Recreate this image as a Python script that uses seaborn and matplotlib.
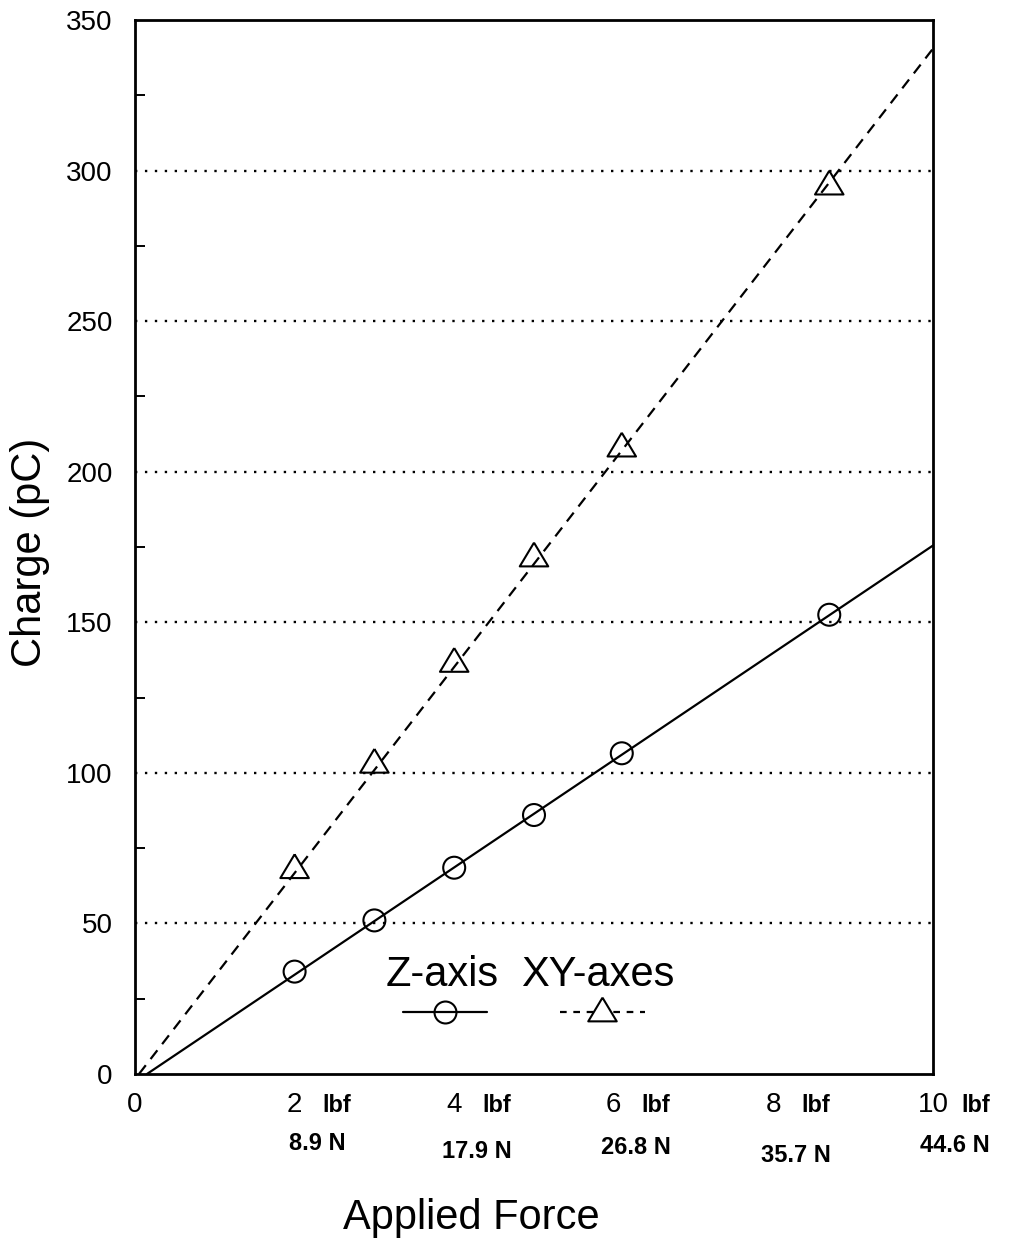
import numpy as np
import pandas as pd
import matplotlib.pyplot as plt
import seaborn as sns
from matplotlib.ticker import MultipleLocator
from matplotlib.transforms import blended_transform_factory

# measured points (applied force in lbf, charge in pC)
z_force = [2.0, 3.0, 4.0, 5.0, 6.1, 8.7]
z_charge = [34, 51, 68.5, 86, 106.5, 152.5]
xy_force = [2.0, 3.0, 4.0, 5.0, 6.1, 8.7]
xy_charge = [69, 104, 137.5, 172.5, 209, 296]

# fitted lines
z_fit_x = [0.15, 10]
z_fit_y = [0, 175.5]
xy_fit_x = [0.05, 10]
xy_fit_y = [0, 340.5]

x_ticks = [0, 2, 4, 6, 8, 10]
x_tick_labels = ['0', '2', '4', '6', '8', '10']
lbf_ticks = [2, 4, 6, 8, 10]
newton_labels = ['8.9 N', '17.9 N', '26.8 N', '35.7 N', '44.6 N']

sns.set_theme(style='white')
plt.rcParams['font.family'] = ['Liberation Sans', 'DejaVu Sans']

W, H = 1012, 1247
fig = plt.figure(figsize=(W / 100, H / 100), dpi=100)
ax = fig.add_axes([135 / W, 1 - 1074 / H, 798 / W, 1054 / H])

df_z = pd.DataFrame({'force': z_force, 'charge': z_charge})
df_xy = pd.DataFrame({'force': xy_force, 'charge': xy_charge})

sns.lineplot(x=z_fit_x, y=z_fit_y, ax=ax, color='black', linewidth=1.6)
sns.lineplot(x=xy_fit_x, y=xy_fit_y, ax=ax, color='black', linewidth=1.6,
             linestyle=(0, (5, 3.5)))

# open triangle, a bit wider than tall
tri = [(0, 1), (-1.2, -1), (1.2, -1), (0, 1)]
sns.scatterplot(data=df_z, x='force', y='charge', ax=ax, marker='o', s=250,
                facecolors='none', edgecolor='black', linewidth=1.5, zorder=3)
sns.scatterplot(data=df_xy, x='force', y='charge', ax=ax, marker=tri, s=420,
                facecolors='none', edgecolor='black', linewidth=1.5, zorder=3)

ax.set_xlim(0, 10)
ax.set_ylim(0, 350)

# dotted horizontal grid
for yv in range(50, 350, 50):
    ax.axhline(yv, color='black', linewidth=1.7, linestyle=(0, (1, 3.2)), zorder=1)

for sp in ax.spines.values():
    sp.set_color('black')
    sp.set_linewidth(2)

ax.yaxis.set_major_locator(MultipleLocator(50))
ax.yaxis.set_minor_locator(MultipleLocator(25))
ax.set_xticks(x_ticks)
ax.set_xticklabels(x_tick_labels)
ax.tick_params(axis='both', which='major', direction='in', length=13, width=1.6,
               color='black', labelsize=20, labelcolor='black')
ax.tick_params(axis='y', which='major', pad=16)
ax.tick_params(axis='x', which='major', pad=13)
ax.tick_params(axis='y', which='minor', direction='in', length=7, width=1.4,
               color='black', left=True)
ax.set_xlabel('')
ax.set_ylabel('')

trans = blended_transform_factory(ax.transData, fig.transFigure)
for t in lbf_ticks:
    ax.text(t + 0.35, 1 - 1105 / H, 'lbf', transform=trans, fontsize=17,
            fontweight='bold', ha='left', va='center', color='black')
newton_y = [1143, 1152, 1148, 1156, 1146]
for t, lab, yp in zip(lbf_ticks, newton_labels, newton_y):
    ax.text(t + 0.28, 1 - yp / H, lab, transform=trans, fontsize=17,
            fontweight='bold', ha='center', va='center', color='black')

fig.text(30 / W, 1 - 552 / H, 'Charge (pC)', rotation=90, fontsize=30,
         ha='center', va='center', color='black')
fig.text(471 / W, 1 - 1218 / H, 'Applied Force', fontsize=30,
         ha='center', va='center', color='black')

# legend: labels above handles
ax.text(3.85, 33, 'Z-axis', fontsize=30, ha='center', va='center', color='black')
ax.text(5.8, 33, 'XY-axes', fontsize=30, ha='center', va='center', color='black')
ax.plot([3.36, 4.41], [20.6, 20.6], color='black', linewidth=1.6)
ax.plot([3.88], [20.6], marker='o', markersize=15.8, markerfacecolor='none',
        markeredgecolor='black', markeredgewidth=1.5, linestyle='none')
ax.plot([5.33, 6.39], [20.6, 20.6], color='black', linewidth=1.6,
        linestyle=(0, (3, 3)))
ax.plot([5.85], [21.5], marker=tri, markersize=20.5, markerfacecolor='white',
        markeredgecolor='black', markeredgewidth=1.5, linestyle='none')

fig.savefig('out.png', dpi=100)
